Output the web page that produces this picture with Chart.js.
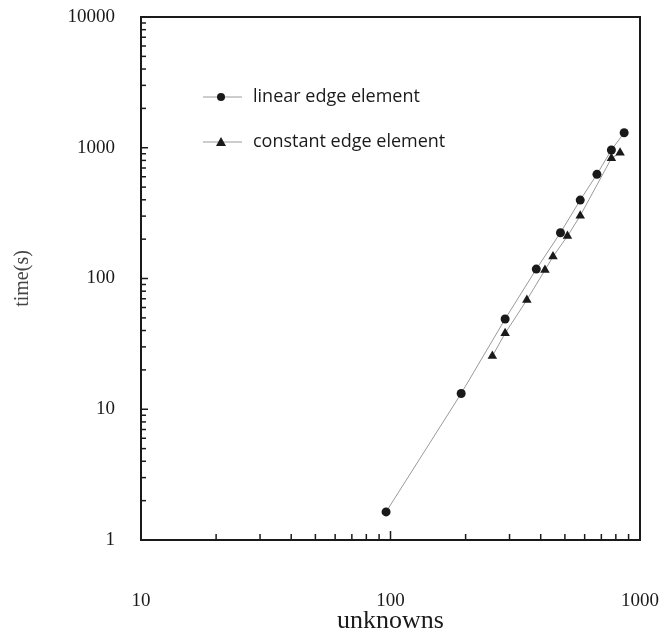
<!DOCTYPE html>
<html>
<head>
<meta charset="utf-8">
<script src="https://cdn.jsdelivr.net/npm/chart.js@4/dist/chart.umd.min.js"></script>
<style>
  html, body { margin: 0; padding: 0; background: #fff; }
  #wrap { width: 664px; height: 637px; }
</style>
</head>
<body>
<div id="wrap"><canvas id="timeChart" width="664" height="637"></canvas></div>
<script>
// データ
const unknownsLinear = [96, 192, 288, 384, 480, 576, 672, 768, 864];
const timeLinear = [1.64, 13.2, 49, 118, 224, 398, 626, 961, 1303];
const unknownsConstant = [256, 288, 352, 416, 448, 512, 576, 768, 832];
const timeConstant = [25.5, 38.1, 68.5, 116, 147, 211, 302, 830, 916];
const xDecades = [10, 100, 1000];
const yDecades = [1, 10, 100, 1000, 10000];
const seriesNames = ['linear edge element', 'constant edge element'];

const toPoints = (xs, ys) => xs.map((x, i) => ({ x: x, y: ys[i] }));

// 目盛り（内向き）と枠線
const frameTicks = {
  id: 'frameTicks',
  afterDraw(chart) {
    const { ctx, chartArea: a, scales } = chart;
    ctx.save();
    ctx.strokeStyle = '#1a1a1a';
    ctx.lineWidth = 1.5;
    // y 軸
    yDecades.forEach((d, i) => {
      for (let m = 1; m <= 9; m++) {
        if (i === yDecades.length - 1 && m > 1) break;
        const py = scales.y.getPixelForValue(d * m);
        ctx.beginPath();
        ctx.moveTo(a.left, py);
        ctx.lineTo(a.left + (m === 1 ? 7 : 5), py);
        ctx.stroke();
      }
    });
    // x 軸
    xDecades.forEach((d, i) => {
      for (let m = 1; m <= 9; m++) {
        if (i === xDecades.length - 1 && m > 1) break;
        const px = scales.x.getPixelForValue(d * m);
        ctx.beginPath();
        ctx.moveTo(px, a.bottom);
        ctx.lineTo(px, a.bottom - (m === 1 ? 9 : 6));
        ctx.stroke();
      }
    });
    ctx.lineWidth = 2;
    ctx.strokeRect(a.left, a.top, a.right - a.left, a.bottom - a.top);
    ctx.restore();
  }
};

// 凡例（グラフ内）
const insideLegend = {
  id: 'insideLegend',
  afterDraw(chart) {
    const { ctx } = chart;
    const x0 = 203, x1 = 242, tx = 253;
    const rows = [97, 142];
    ctx.save();
    chart.data.datasets.forEach((ds, i) => {
      const y = rows[i];
      ctx.strokeStyle = '#9a9a9a';
      ctx.lineWidth = 1;
      ctx.beginPath();
      ctx.moveTo(x0, y);
      ctx.lineTo(x1, y);
      ctx.stroke();
      ctx.fillStyle = '#1a1a1a';
      ctx.beginPath();
      if (ds.pointStyle === 'circle') {
        ctx.arc(221, y, 4, 0, Math.PI * 2);
      } else {
        ctx.moveTo(221, y - 5);
        ctx.lineTo(226, y + 4);
        ctx.lineTo(216, y + 4);
        ctx.closePath();
      }
      ctx.fill();
      ctx.font = '18px "Open Sans"';
      ctx.textBaseline = 'middle';
      ctx.fillText(ds.label, tx, y);
    });
    ctx.restore();
  }
};

const ctx = document.getElementById('timeChart').getContext('2d');
const timeChart = new Chart(ctx, {
  type: 'scatter',
  data: {
    datasets: [
      {
        label: seriesNames[0],
        data: toPoints(unknownsLinear, timeLinear),
        showLine: true,
        borderColor: '#9a9a9a',
        borderWidth: 1,
        pointStyle: 'circle',
        pointRadius: 4.5,
        pointBackgroundColor: '#1a1a1a',
        pointBorderColor: '#1a1a1a',
        pointBorderWidth: 0
      },
      {
        label: seriesNames[1],
        data: toPoints(unknownsConstant, timeConstant),
        showLine: true,
        borderColor: '#9a9a9a',
        borderWidth: 1,
        pointStyle: 'triangle',
        pointRadius: 5.5,
        pointBackgroundColor: '#1a1a1a',
        pointBorderColor: '#1a1a1a',
        pointBorderWidth: 0
      }
    ]
  },
  options: {
    responsive: false,
    animation: false,
    layout: { padding: { top: 17, right: 24, left: 0, bottom: 0 } },
    plugins: {
      legend: { display: false },
      tooltip: { enabled: false }
    },
    scales: {
      x: {
        type: 'logarithmic',
        min: 10,
        max: 1000,
        afterBuildTicks: (s) => { s.ticks = xDecades.map(v => ({ value: v })); },
        afterFit: (s) => { s.height = 97; s.paddingLeft = 0; s.paddingRight = 0; },
        grid: { display: false, drawTicks: false },
        border: { display: false },
        ticks: {
          padding: 50,
          color: '#1a1a1a',
          font: { family: '"Liberation Serif"', size: 19 },
          maxRotation: 0,
          callback: (v) => String(v)
        },
        title: {
          display: true,
          text: 'unknowns',
          color: '#1a1a1a',
          font: { family: '"Liberation Serif"', size: 26 },
          padding: 0
        }
      },
      y: {
        type: 'logarithmic',
        min: 1,
        max: 10000,
        afterBuildTicks: (s) => { s.ticks = yDecades.map(v => ({ value: v })); },
        afterFit: (s) => { s.width = 141; s.paddingTop = 0; s.paddingBottom = 0; },
        grid: { display: false, drawTicks: false },
        border: { display: false },
        ticks: {
          padding: 26,
          color: '#1a1a1a',
          font: { family: '"Liberation Serif"', size: 19 },
          callback: (v) => String(v)
        },
        title: {
          display: true,
          text: 'time(s)',
          color: '#444',
          font: { family: '"Liberation Serif"', size: 20 },
          padding: { top: 11, bottom: 0 }
        }
      }
    }
  },
  plugins: [frameTicks, insideLegend]
});
</script>
</body>
</html>
